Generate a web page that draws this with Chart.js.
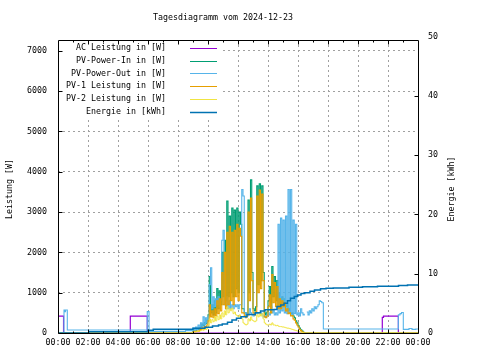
<!DOCTYPE html>
<html><head><meta charset="utf-8">
<script src="https://cdn.jsdelivr.net/npm/chart.js@4.4.0/dist/chart.umd.min.js"></script>
<style>html,body{margin:0;padding:0;background:#fff;}</style>
</head><body>
<canvas id="c" width="480" height="360"></canvas>
<script>
const chartTitle = 'Tagesdiagramm vom 2024-12-23';
const leftAxisTitle = 'Leistung [W]';
const rightAxisTitle = 'Energie [kWh]';
const hourLabels = ['00:00','02:00','04:00','06:00','08:00','10:00','12:00','14:00','16:00','18:00','20:00','22:00','00:00'];
const powerTicks = [0,1000,2000,3000,4000,5000,6000,7000];
const energyTicks = [0,10,20,30,40,50];
const seriesNames = ['AC Leistung in [W]','PV-Power-In in [W]','PV-Power-Out in [W]','PV-1 Leistung in [W]','PV-2 Leistung in [W]','Energie in [kWh]'];
const seriesColors = ['#9400d3','#009e73','#56b4e9','#e69f00','#f0e442','#0072b2'];

// daytime samples: 09:00 .. 16:30, every 5 minutes
const dayStartHour = 9;
const dayStepMinutes = 5;
const pvInDay = [60,80,70,100,90,130,160,220,180,260,230,320,450,1400,500,700,450,800,500,1100,600,1050,700,2000,900,2300,800,3275,900,2900,1000,3100,900,3050,1100,3100,1000,3000,2700,600,600,500,450,500,3300,1000,3800,1500,600,550,650,3650,1200,3700,1300,3650,1500,500,450,520,800,1150,600,1650,900,1400,800,1300,700,1000,700,900,750,850,650,700,550,600,480,500,420,380,300,250,180,120,80,50,20,0,0];
const pv1Day = [30,40,30,50,40,70,90,130,100,160,150,200,300,700,400,550,380,600,420,800,480,850,550,1500,700,2000,600,2500,700,2650,800,2500,700,2550,900,2700,800,2600,2400,500,500,420,380,420,3000,800,3350,1300,500,450,520,3400,1000,3550,1100,3450,1300,400,380,420,650,950,500,1450,750,1250,650,1150,600,850,600,800,650,750,550,600,480,500,420,430,350,320,250,200,150,90,60,30,10,0,0];
const pv2Day = [20,30,25,40,30,50,60,80,70,100,90,120,180,350,250,330,280,400,300,420,330,450,350,500,400,550,450,650,500,600,550,620,480,520,450,430,400,450,380,350,250,220,200,220,350,300,400,320,300,280,300,450,400,500,420,480,350,250,220,200,200,220,200,250,200,200,180,190,170,160,160,150,150,140,130,120,120,110,100,90,80,70,60,50,40,30,20,10,0,0,0];
const pvOutDay = [120,60,150,80,200,100,250,150,400,200,380,250,420,1200,1620,600,900,650,850,700,900,650,800,2300,2550,700,600,900,600,800,600,700,600,700,650,700,600,700,700,3560,3400,500,450,500,450,600,500,450,420,450,500,480,500,480,500,450,400,420,400,450,500,450,650,500,550,450,500,450,2700,500,2850,550,2800,500,2900,480,3560,500,3560,450,2800,480,2700,450,500,420,600,500,450,480];

// night / evening parts
const pvOutMorningTimes = [0,0.4,0.45,0.5,0.62,5.95,6.07,8.5];
const pvOutMorningValues = [0,570,530,570,75,530,40,60];
const pvOutEveningTimes = [16.583,16.667,16.75,16.833,16.917,17.0,17.083,17.167,17.25,17.333,17.417,17.5,17.583,17.69,22.69,22.8,22.9,23.02,23.4,23.6,23.85,24];
const pvOutEveningValues = [520,450,550,500,600,550,650,600,650,700,800,780,750,100,450,480,510,90,110,90,100,100];
const acTimes = [0,0.37,4.82,5.95,21.62,21.7,22.69,24];
const acValues = [420,0,420,0,390,420,0,0];
const energyTimes = [0,2.05,6.0,6.35,9.0,9.8,10.3,10.7,10.95,11.3,11.6,11.9,12.2,12.6,13.15,13.5,13.8,14.4,14.6,14.85,15.07,15.3,15.5,15.75,15.96,16.2,16.45,16.8,17.1,17.5,17.87,18.35,19.4,20.3,21.3,22.7,23.3,24];
const energyValues = [0,0.2,0.45,0.62,0.8,0.96,1.18,1.35,1.5,1.8,2.2,2.5,2.75,3.1,3.4,3.7,3.9,3.95,4.45,4.7,5.0,5.45,5.86,6.15,6.4,6.65,6.8,7.05,7.26,7.45,7.55,7.6,7.7,7.8,7.9,8.0,8.1,8.1];

const dayTimes = pvInDay.map((_, i) => dayStartHour + i * dayStepMinutes / 60);
const pts = (times, values) => times.map((t, i) => ({x: t, y: values[i]}));
const withNightZeros = (vals) => [{x: 0, y: 0}].concat(pts(dayTimes, vals), [{x: 24, y: 0}]);

const FONT = 'DejaVu Sans Mono';
const FS = 8.3;

const datasets = [
  {label: seriesNames[0], data: pts(acTimes, acValues), borderColor: seriesColors[0], yAxisID: 'y', order: 6, borderWidth: 1.2},
  {label: seriesNames[1], data: withNightZeros(pvInDay), borderColor: seriesColors[1], yAxisID: 'y', order: 5, borderWidth: 1.1},
  {label: seriesNames[2], data: pts(pvOutMorningTimes, pvOutMorningValues).concat(pts(dayTimes, pvOutDay), pts(pvOutEveningTimes, pvOutEveningValues)), borderColor: seriesColors[2], yAxisID: 'y', order: 4, borderWidth: 1.1},
  {label: seriesNames[3], data: withNightZeros(pv1Day), borderColor: seriesColors[3], yAxisID: 'y', order: 3, borderWidth: 1.1},
  {label: seriesNames[4], data: withNightZeros(pv2Day), borderColor: seriesColors[4], yAxisID: 'y', order: 2, borderWidth: 1},
  {label: seriesNames[5], data: pts(energyTimes, energyValues), borderColor: seriesColors[5], yAxisID: 'y2', order: 1, borderWidth: 1.5}
].map(d => Object.assign({stepped: true, pointRadius: 0, fill: false, tension: 0}, d));

const decor = {
  id: 'decor',
  beforeDatasetsDraw(chart) {
    const ctx = chart.ctx;
    ctx.save();
    ctx.fillStyle = '#ffffff';
    ctx.fillRect(59, 41, 164, 77);
    ctx.restore();
  },
  afterDraw(chart) {
    const {ctx, chartArea: a, scales} = chart;
    const L = Math.round(a.left) + 0.5, R = Math.round(a.right) + 0.5, T = Math.round(a.top) + 0.5, B = Math.round(a.bottom) + 0.5;
    ctx.save();
    ctx.strokeStyle = '#000';
    ctx.lineWidth = 1;
    ctx.beginPath();
    ctx.rect(L, T, R - L, B - T);
    for (let h = 1; h < 24; h++) {
      const px = Math.round(scales.x.getPixelForValue(h)) + 0.5;
      const len = h % 2 ? 2 : 4;
      ctx.moveTo(px, B); ctx.lineTo(px, B - len);
      ctx.moveTo(px, T); ctx.lineTo(px, T + len);
    }
    powerTicks.forEach(v => { const py = Math.round(scales.y.getPixelForValue(v)) + 0.5; ctx.moveTo(L, py); ctx.lineTo(L + 4, py); });
    energyTicks.forEach(v => { const py = Math.round(scales.y2.getPixelForValue(v)) + 0.5; if (py >= T) { ctx.moveTo(R, py); ctx.lineTo(R - 4, py); } });
    ctx.stroke();

    ctx.fillStyle = '#000';
    ctx.font = FS + 'px "' + FONT + '"';
    ctx.textBaseline = 'middle';
    ctx.textAlign = 'center';
    ctx.fillText(chartTitle, 223, 18);
    ctx.save(); ctx.translate(10, 189); ctx.rotate(-Math.PI / 2); ctx.fillText(leftAxisTitle, 0, 0); ctx.restore();
    ctx.save(); ctx.translate(452, 189); ctx.rotate(-Math.PI / 2); ctx.fillText(rightAxisTitle, 0, 0); ctx.restore();

    // legend
    ctx.textAlign = 'right';
    seriesNames.forEach((name, i) => {
      const y = 48 + i * 12.7;
      ctx.fillStyle = '#000';
      ctx.fillText(name, 166, y);
      ctx.strokeStyle = seriesColors[i];
      ctx.lineWidth = i === 5 ? 1.5 : 1;
      ctx.beginPath();
      ctx.moveTo(190, Math.round(y) + 0.5); ctx.lineTo(217, Math.round(y) + 0.5);
      ctx.stroke();
    });
    ctx.restore();
  }
};

const gridColorFor = (edgeVals) => (c) => (c.tick && edgeVals.includes(c.tick.value)) ? 'rgba(0,0,0,0)' : '#a0a0a0';

new Chart(document.getElementById('c'), {
  type: 'line',
  data: {datasets},
  plugins: [decor],
  options: {
    responsive: false,
    animation: false,
    devicePixelRatio: 1,
    parsing: false,
    normalized: true,
    layout: {padding: {top: 40, left: 0, right: 0, bottom: 0}, autoPadding: false},
    plugins: {legend: {display: false}, title: {display: false}, tooltip: {enabled: false}},
    scales: {
      x: {
        type: 'linear', min: 0, max: 24,
        afterFit: s => { s.height = 27; },
        afterBuildTicks: s => { s.ticks = hourLabels.map((_, i) => ({value: i * 2})); },
        ticks: {autoSkip: false, maxRotation: 0, padding: 5, color: '#000', font: {family: FONT, size: FS},
          callback: (v, i) => hourLabels[i]},
        grid: {color: gridColorFor([0, 24]), lineWidth: 1, drawTicks: false},
        border: {display: false, dash: [2, 3]}
      },
      y: {
        type: 'linear', position: 'left', min: 0, max: 7270,
        afterFit: s => { s.width = 58; },
        afterBuildTicks: s => { s.ticks = powerTicks.map(v => ({value: v})); },
        ticks: {autoSkip: false, padding: 11, color: '#000', font: {family: FONT, size: FS},
          callback: v => String(v)},
        grid: {color: gridColorFor([0]), lineWidth: 1, drawTicks: false},
        border: {display: false, dash: [2, 3]}
      },
      y2: {
        type: 'linear', position: 'right', min: 0, max: 49.4,
        afterFit: s => { s.width = 62; },
        afterBuildTicks: s => { s.ticks = energyTicks.map(v => ({value: v})); },
        ticks: {autoSkip: false, padding: 10, color: '#000', font: {family: FONT, size: FS},
          callback: v => String(v)},
        grid: {drawOnChartArea: false, drawTicks: false},
        border: {display: false}
      }
    }
  }
});
</script>
</body></html>
